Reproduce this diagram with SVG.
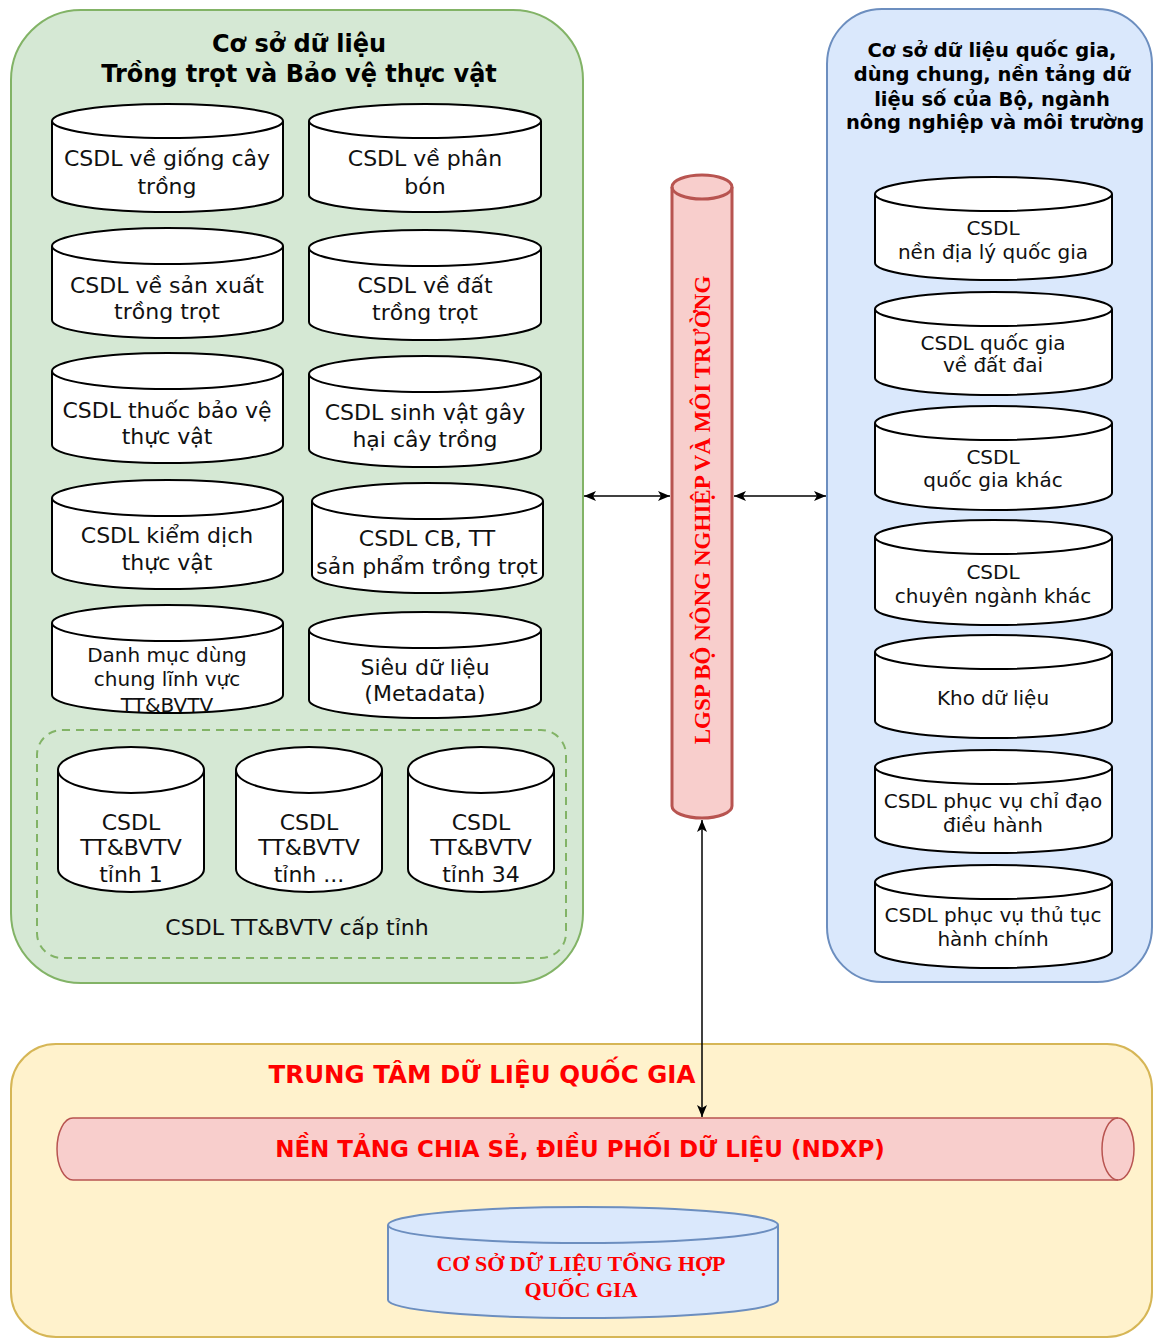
<svg xmlns="http://www.w3.org/2000/svg" width="1154" height="1339" viewBox="0 0 1154 1339">
<style>
.cyl{fill:#fff;stroke:#000;stroke-width:2}
.arc{fill:none;stroke:#000;stroke-width:2}
.t{font-family:"DejaVu Sans",Verdana,sans-serif;fill:#111;text-anchor:middle}
.t22{font-size:22px}
.t20{font-size:20px}
.title{font-family:"DejaVu Sans",Verdana,sans-serif;font-weight:bold;fill:#000;text-anchor:middle}
.red{fill:#ff0000;font-weight:bold;text-anchor:middle}
.serif{font-family:"Liberation Serif","Times New Roman",serif}
.sans{font-family:"DejaVu Sans",Verdana,sans-serif}
.conn{stroke:#000;stroke-width:1.5;fill:none}
</style>
<defs>
<marker id="arr" markerUnits="userSpaceOnUse" markerWidth="12" markerHeight="10" refX="12" refY="5" orient="auto-start-reverse">
<path d="M0,0 L12,5 L0,10 L3,5 Z" fill="#000"/>
</marker>
</defs>

<g id="panel-green">
<rect x="11" y="10" width="572" height="973" rx="70" fill="#d5e8d4" stroke="#82b366" stroke-width="2"/>
<text class="title" font-size="24" x="299" y="52">Cơ sở dữ liệu</text>
<text class="title" font-size="24" x="299" y="82">Trồng trọt và Bảo vệ thực vật</text>
</g>

<g id="panel-blue">
<rect x="827" y="9" width="325" height="973" rx="55" fill="#dae8fc" stroke="#6c8ebf" stroke-width="2"/>
<text class="title" font-size="19.5" x="992" y="57">Cơ sở dữ liệu quốc gia,</text>
<text class="title" font-size="19.5" x="992" y="81">dùng chung, nền tảng dữ</text>
<text class="title" font-size="19.5" x="992" y="106">liệu số của Bộ, ngành</text>
<text class="title" font-size="19.5" x="995" y="129">nông nghiệp và môi trường</text>
</g>

<g id="panel-yellow">
<rect x="11" y="1044" width="1141" height="293" rx="45" fill="#fff2cc" stroke="#d6b656" stroke-width="2"/>
<text class="red sans" font-size="24.5" x="482" y="1083">TRUNG TÂM DỮ LIỆU QUỐC GIA</text>
</g>

<g id="group-province">
<rect x="37" y="730" width="529" height="228" rx="25" fill="none" stroke="#82b366" stroke-width="2" stroke-dasharray="8,6"/>
<text class="t t22" x="297" y="935">CSDL TT&amp;BVTV cấp tỉnh</text>
</g>

<g id="csdl-giong">
<path class="cyl" d="M52,121 A115.5,17 0 0 1 283,121 V195 A115.5,17 0 0 1 52,195 Z"/>
<path class="arc" d="M52,121 A115.5,17 0 0 0 283,121"/>
<text class="t t22" x="167" y="166">CSDL về giống cây</text>
<text class="t t22" x="167" y="194">trồng</text>
</g>
<g id="csdl-phanbon">
<path class="cyl" d="M309,121 A116,17 0 0 1 541,121 V195 A116,17 0 0 1 309,195 Z"/>
<path class="arc" d="M309,121 A116,17 0 0 0 541,121"/>
<text class="t t22" x="425" y="166">CSDL về phân</text>
<text class="t t22" x="425" y="194">bón</text>
</g>
<g id="csdl-sanxuat">
<path class="cyl" d="M52,246 A115.5,18 0 0 1 283,246 V320 A115.5,18 0 0 1 52,320 Z"/>
<path class="arc" d="M52,246 A115.5,18 0 0 0 283,246"/>
<text class="t t22" x="167" y="293">CSDL về sản xuất</text>
<text class="t t22" x="167" y="319">trồng trọt</text>
</g>
<g id="csdl-dat">
<path class="cyl" d="M309,248 A116,18 0 0 1 541,248 V322 A116,18 0 0 1 309,322 Z"/>
<path class="arc" d="M309,248 A116,18 0 0 0 541,248"/>
<text class="t t22" x="425" y="293">CSDL về đất</text>
<text class="t t22" x="425" y="320">trồng trọt</text>
</g>
<g id="csdl-thuoc">
<path class="cyl" d="M52,371 A115.5,18 0 0 1 283,371 V445 A115.5,18 0 0 1 52,445 Z"/>
<path class="arc" d="M52,371 A115.5,18 0 0 0 283,371"/>
<text class="t t22" x="167" y="418">CSDL thuốc bảo vệ</text>
<text class="t t22" x="167" y="444">thực vật</text>
</g>
<g id="csdl-sinhvat">
<path class="cyl" d="M309,374 A116,18 0 0 1 541,374 V449 A116,18 0 0 1 309,449 Z"/>
<path class="arc" d="M309,374 A116,18 0 0 0 541,374"/>
<text class="t t22" x="425" y="420">CSDL sinh vật gây</text>
<text class="t t22" x="425" y="447">hại cây trồng</text>
</g>
<g id="csdl-kiemdich">
<path class="cyl" d="M52,498 A115.5,18 0 0 1 283,498 V571 A115.5,18 0 0 1 52,571 Z"/>
<path class="arc" d="M52,498 A115.5,18 0 0 0 283,498"/>
<text class="t t22" x="167" y="543">CSDL kiểm dịch</text>
<text class="t t22" x="167" y="570">thực vật</text>
</g>
<g id="csdl-cbtt">
<path class="cyl" d="M312,501 A115.5,18 0 0 1 543,501 V575 A115.5,18 0 0 1 312,575 Z"/>
<path class="arc" d="M312,501 A115.5,18 0 0 0 543,501"/>
<text class="t t22" x="427" y="546">CSDL CB, TT</text>
<text class="t t22" x="427" y="574">sản phẩm trồng trọt</text>
</g>
<g id="danh-muc">
<path class="cyl" d="M52,623 A115.5,18 0 0 1 283,623 V695 A115.5,18 0 0 1 52,695 Z"/>
<path class="arc" d="M52,623 A115.5,18 0 0 0 283,623"/>
<text class="t t20" x="167" y="662">Danh mục dùng</text>
<text class="t t20" x="167" y="686">chung lĩnh vực</text>
<text class="t t20" x="167" y="712">TT&amp;BVTV</text>
</g>
<g id="metadata">
<path class="cyl" d="M309,630 A116,18 0 0 1 541,630 V700 A116,18 0 0 1 309,700 Z"/>
<path class="arc" d="M309,630 A116,18 0 0 0 541,630"/>
<text class="t t22" x="425" y="675">Siêu dữ liệu</text>
<text class="t t22" x="425" y="701">(Metadata)</text>
</g>

<g id="tinh-1">
<path class="cyl" d="M58,770 A73,23 0 0 1 204,770 V869 A73,23 0 0 1 58,869 Z"/>
<path class="arc" d="M58,770 A73,23 0 0 0 204,770"/>
<text class="t t22" x="131" y="830">CSDL</text>
<text class="t t22" x="131" y="855">TT&amp;BVTV</text>
<text class="t t22" x="131" y="882">tỉnh 1</text>
</g>
<g id="tinh-n">
<path class="cyl" d="M236,770 A73,23 0 0 1 382,770 V869 A73,23 0 0 1 236,869 Z"/>
<path class="arc" d="M236,770 A73,23 0 0 0 382,770"/>
<text class="t t22" x="309" y="830">CSDL</text>
<text class="t t22" x="309" y="855">TT&amp;BVTV</text>
<text class="t t22" x="309" y="882">tỉnh ...</text>
</g>
<g id="tinh-34">
<path class="cyl" d="M408,770 A73,23 0 0 1 554,770 V869 A73,23 0 0 1 408,869 Z"/>
<path class="arc" d="M408,770 A73,23 0 0 0 554,770"/>
<text class="t t22" x="481" y="830">CSDL</text>
<text class="t t22" x="481" y="855">TT&amp;BVTV</text>
<text class="t t22" x="481" y="882">tỉnh 34</text>
</g>

<g id="qg-dialy">
<path class="cyl" d="M875,194 A118.5,17 0 0 1 1112,194 V263 A118.5,17 0 0 1 875,263 Z"/>
<path class="arc" d="M875,194 A118.5,17 0 0 0 1112,194"/>
<text class="t t20" x="993" y="235">CSDL</text>
<text class="t t20" x="993" y="259">nền địa lý quốc gia</text>
</g>
<g id="qg-datdai">
<path class="cyl" d="M875,309 A118.5,17 0 0 1 1112,309 V378 A118.5,17 0 0 1 875,378 Z"/>
<path class="arc" d="M875,309 A118.5,17 0 0 0 1112,309"/>
<text class="t t20" x="993" y="350">CSDL quốc gia</text>
<text class="t t20" x="993" y="372">về đất đai</text>
</g>
<g id="qg-khac">
<path class="cyl" d="M875,423 A118.5,17 0 0 1 1112,423 V493 A118.5,17 0 0 1 875,493 Z"/>
<path class="arc" d="M875,423 A118.5,17 0 0 0 1112,423"/>
<text class="t t20" x="993" y="464">CSDL</text>
<text class="t t20" x="993" y="487">quốc gia khác</text>
</g>
<g id="chuyennganh">
<path class="cyl" d="M875,537 A118.5,17 0 0 1 1112,537 V608 A118.5,17 0 0 1 875,608 Z"/>
<path class="arc" d="M875,537 A118.5,17 0 0 0 1112,537"/>
<text class="t t20" x="993" y="579">CSDL</text>
<text class="t t20" x="993" y="603">chuyên ngành khác</text>
</g>
<g id="kho">
<path class="cyl" d="M875,652 A118.5,17 0 0 1 1112,652 V721 A118.5,17 0 0 1 875,721 Z"/>
<path class="arc" d="M875,652 A118.5,17 0 0 0 1112,652"/>
<text class="t t20" x="993" y="705">Kho dữ liệu</text>
</g>
<g id="chidao">
<path class="cyl" d="M875,767 A118.5,17 0 0 1 1112,767 V836 A118.5,17 0 0 1 875,836 Z"/>
<path class="arc" d="M875,767 A118.5,17 0 0 0 1112,767"/>
<text class="t t20" x="993" y="808">CSDL phục vụ chỉ đạo</text>
<text class="t t20" x="993" y="832">điều hành</text>
</g>
<g id="thutuc">
<path class="cyl" d="M875,882 A118.5,17 0 0 1 1112,882 V951 A118.5,17 0 0 1 875,951 Z"/>
<path class="arc" d="M875,882 A118.5,17 0 0 0 1112,882"/>
<text class="t t20" x="993" y="922">CSDL phục vụ thủ tục</text>
<text class="t t20" x="993" y="946">hành chính</text>
</g>

<g id="lgsp">
<path d="M672,187 A30,12 0 0 1 732,187 V806 A30,12 0 0 1 672,806 Z" fill="#f8cecc" stroke="#b85450" stroke-width="3"/>
<path d="M672,187 A30,12 0 0 0 732,187" fill="none" stroke="#b85450" stroke-width="3"/>
<text class="red serif" font-size="23" transform="translate(710,510) rotate(-90)">LGSP BỘ NÔNG NGHIỆP VÀ MÔI TRƯỜNG</text>
</g>

<g id="ndxp">
<path d="M73,1118 H1118 A16,31 0 0 1 1118,1180 H73 A16,31 0 0 1 73,1118 Z" fill="#f8cecc" stroke="#b85450" stroke-width="1.5"/>
<path d="M1118,1118 A16,31 0 0 0 1118,1180" fill="none" stroke="#b85450" stroke-width="1.5"/>
<text class="red sans" font-size="23" x="580" y="1157">NỀN TẢNG CHIA SẺ, ĐIỀU PHỐI DỮ LIỆU (NDXP)</text>
</g>

<g id="csdl-tonghop">
<path d="M388,1225 A195,18 0 0 1 778,1225 V1300 A195,18 0 0 1 388,1300 Z" fill="#dae8fc" stroke="#6c8ebf" stroke-width="2"/>
<path d="M388,1225 A195,18 0 0 0 778,1225" fill="none" stroke="#6c8ebf" stroke-width="2"/>
<text class="red serif" font-size="22" x="581" y="1271">CƠ SỞ DỮ LIỆU TỔNG HỢP</text>
<text class="red serif" font-size="22" x="581" y="1297">QUỐC GIA</text>
</g>

<g id="connectors">
<line class="conn" x1="584" y1="496" x2="670" y2="496" marker-start="url(#arr)" marker-end="url(#arr)"/>
<line class="conn" x1="734" y1="496" x2="826" y2="496" marker-start="url(#arr)" marker-end="url(#arr)"/>
<line class="conn" x1="702" y1="820" x2="702" y2="1117" marker-start="url(#arr)" marker-end="url(#arr)"/>
</g>
</svg>
